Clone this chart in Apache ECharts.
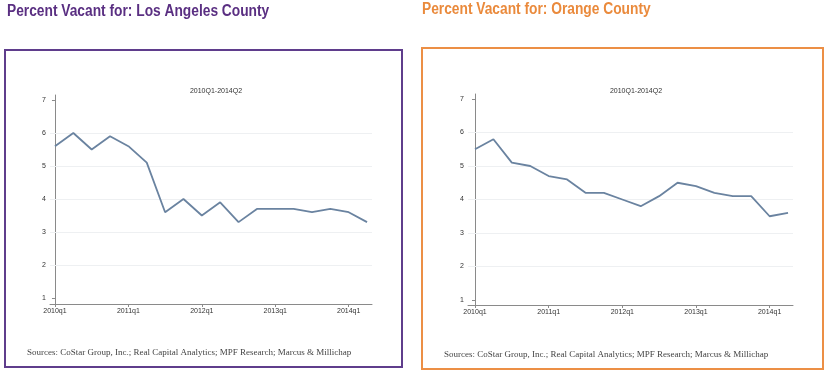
<!DOCTYPE html>
<html>
<head>
<meta charset="utf-8">
<script src="https://cdn.jsdelivr.net/npm/echarts@6/dist/echarts.min.js"></script>
<style>
  html, body { margin: 0; padding: 0; background: #fff; }
  #chart { width: 829px; height: 375px; }
</style>
</head>
<body>
<div id="chart"></div>
<script>
var quarters = ['2010q1', '2010q2', '2010q3', '2010q4', '2011q1', '2011q2', '2011q3', '2011q4',
  '2012q1', '2012q2', '2012q3', '2012q4', '2013q1', '2013q2', '2013q3', '2013q4', '2014q1', '2014q2'];
var laValues = [5.6, 6.0, 5.5, 5.9, 5.6, 5.1, 3.6, 4.0, 3.5, 3.9, 3.3, 3.7, 3.7, 3.7, 3.6, 3.7, 3.6, 3.3];
var ocValues = [5.5, 5.8, 5.1, 5.0, 4.7, 4.6, 4.2, 4.2, 4.0, 3.8, 4.1, 4.5, 4.4, 4.2, 4.1, 4.1, 3.5, 3.6];
var yTicks = [1, 2, 3, 4, 5, 6, 7];
var gridValues = [2, 3, 4, 5, 6];
var xTickIdx = [0, 4, 8, 12, 16];
var subtitle = '2010Q1-2014Q2';
var source = 'Sources: CoStar Group, Inc.; Real Capital Analytics; MPF Research; Marcus & Millichap';

var lineColor = '#6a83a0';
var axisColor = '#8a8a8a';

function pairs(vals) {
  return vals.map(function (v, i) { return [i, v]; });
}

function xAxisFor(idx, min) {
  return {
    type: 'value', gridIndex: idx, min: min, max: 17.27,
    axisLine: { show: true, lineStyle: { color: axisColor, width: 1 } },
    axisTick: { show: true, length: 3, customValues: xTickIdx, lineStyle: { color: axisColor } },
    axisLabel: {
      customValues: xTickIdx, fontSize: 7, color: '#333', margin: 4,
      fontFamily: 'Liberation Sans',
      formatter: function (v) { return quarters[Math.round(v)]; }
    },
    splitLine: { show: false }
  };
}

function yAxisFor(idx, min) {
  return {
    type: 'value', gridIndex: idx, min: min, max: 7.15,
    axisLine: { show: true, lineStyle: { color: axisColor, width: 1 } },
    axisTick: { show: true, length: 3, customValues: yTicks, lineStyle: { color: axisColor } },
    axisLabel: { customValues: yTicks, fontSize: 7, color: '#333', margin: 4, fontFamily: 'Liberation Sans' },
    splitLine: { show: false }
  };
}

// faint horizontal grid, drawn under the data line
function gridSeries(idx) {
  return {
    type: 'line', xAxisIndex: idx, yAxisIndex: idx, data: [], z: 1,
    markLine: {
      z: 1, silent: true, symbol: 'none', label: { show: false },
      lineStyle: { color: '#eef0f2', type: 'solid', width: 1 },
      data: gridValues.map(function (v) { return { yAxis: v }; })
    }
  };
}

var chart = echarts.init(document.getElementById('chart'));
chart.setOption({
  backgroundColor: '#fff',
  animation: false,
  title: [
    { text: subtitle, left: 211, top: 83, textAlign: 'center',
      textStyle: { fontSize: 7, fontWeight: 'normal', color: '#333', fontFamily: 'Liberation Sans' } },
    { text: subtitle, left: 631, top: 83, textAlign: 'center',
      textStyle: { fontSize: 7, fontWeight: 'normal', color: '#333', fontFamily: 'Liberation Sans' } }
  ],
  graphic: [
    { type: 'rect', shape: { x: 5, y: 50, width: 397, height: 317 },
      style: { fill: 'none', stroke: '#5f3d8c', lineWidth: 2 } },
    { type: 'rect', shape: { x: 422, y: 48, width: 401, height: 321 },
      style: { fill: 'none', stroke: '#ec8f45', lineWidth: 2 } },
    { type: 'text', x: 7, y: 12, scaleX: 0.86,
      style: { text: 'Percent Vacant for: Los Angeles County', fill: '#5a2f82', fontSize: 16,
        fontWeight: 'bold', fontFamily: 'Liberation Sans', verticalAlign: 'middle' } },
    { type: 'text', x: 422, y: 10, scaleX: 0.86,
      style: { text: 'Percent Vacant for: Orange County', fill: '#ea8a3c', fontSize: 16,
        fontWeight: 'bold', fontFamily: 'Liberation Sans', verticalAlign: 'middle' } },
    { type: 'text', x: 27, y: 353,
      style: { text: source, fill: '#444', fontSize: 9, fontFamily: 'Liberation Serif', verticalAlign: 'middle' } },
    { type: 'text', x: 444, y: 355,
      style: { text: source, fill: '#444', fontSize: 9, fontFamily: 'Liberation Serif', verticalAlign: 'middle' } }
  ],
  grid: [
    { left: 50, right: 457, top: 95, bottom: 71 },
    { left: 468, right: 36, top: 94, bottom: 70 }
  ],
  xAxis: [xAxisFor(0, -0.27), xAxisFor(1, -0.38)],
  yAxis: [yAxisFor(0, 0.82), yAxisFor(1, 0.85)],
  series: [
    gridSeries(0),
    gridSeries(1),
    { type: 'line', xAxisIndex: 0, yAxisIndex: 0, data: pairs(laValues), symbol: 'none', z: 3,
      lineStyle: { color: lineColor, width: 1.8 } },
    { type: 'line', xAxisIndex: 1, yAxisIndex: 1, data: pairs(ocValues), symbol: 'none', z: 3,
      lineStyle: { color: lineColor, width: 1.8 } }
  ]
});
</script>
</body>
</html>
